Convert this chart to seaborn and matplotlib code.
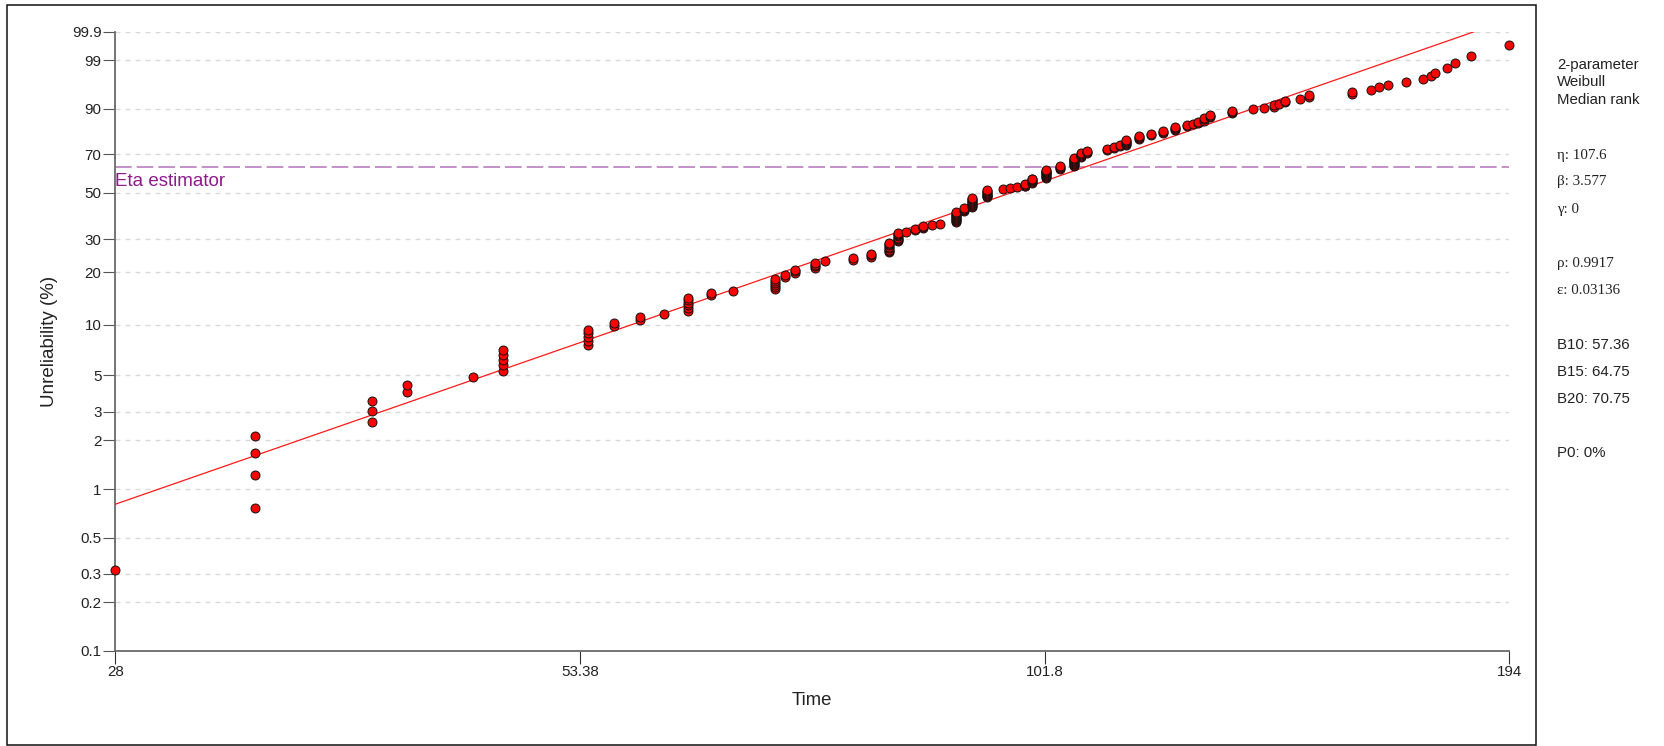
import numpy as np
import pandas as pd
import matplotlib
matplotlib.use("Agg")
import matplotlib.pyplot as plt
import seaborn as sns
from matplotlib.patches import Rectangle
from matplotlib.ticker import NullLocator, FixedLocator, FixedFormatter

# ---------------- data ----------------
# distinct failure times and number of failures observed at each time
fail_times = [28, 34, 40, 42, 46, 48, 54, 56, 58, 60, 62, 64, 66, 70, 71, 72, 74, 75,
              78, 80, 82, 83, 84, 85, 86, 87, 88, 90, 91, 92, 94, 96, 97, 98, 99, 100,
              102, 104, 106, 107, 108, 111, 112, 113, 114, 116, 118, 120, 122, 124, 125,
              126, 127, 128, 132, 136, 138, 140, 141, 142, 145, 147, 156, 160, 162, 164,
              168, 172, 174, 175, 178, 180, 184, 194]
fail_counts = [1, 4, 3, 2, 1, 5, 5, 2, 2, 1, 6, 2, 1, 6, 2, 3, 4, 1,
               2, 3, 8, 8, 1, 2, 3, 1, 1, 11, 4, 10, 9, 1, 1, 1, 4, 6,
               10, 4, 10, 5, 3, 2, 2, 2, 6, 4, 2, 3, 4, 2, 1,
               2, 3, 3, 3, 1, 1, 2, 1, 2, 1, 2, 2, 1, 1, 1,
               1, 1, 1, 1, 1, 1, 1, 1]

# fitted 2-parameter Weibull and summary values shown in the side panel
eta = 107.6
beta = 3.577
gamma = 0
rho = 0.9917
epsilon = 0.03136
b10, b15, b20 = 57.36, 64.75, 70.75
p0 = 0

x_ticks = [28, 53.38, 101.8, 194]
x_tick_labels = ["28", "53.38", "101.8", "194"]
y_ticks = [0.1, 0.2, 0.3, 0.5, 1, 2, 3, 5, 10, 20, 30, 50, 70, 90, 99, 99.9]
y_tick_labels = ["0.1", "0.2", "0.3", "0.5", "1", "2", "3", "5", "10", "20", "30",
                 "50", "70", "90", "99", "99.9"]

# ---------------- derived: median ranks (Bernard) ----------------
times = np.repeat(fail_times, fail_counts)
n = len(times)
ranks = np.arange(1, n + 1)
unrel = (ranks - 0.3) / (n + 0.4) * 100.0
pts = pd.DataFrame({"Time": times, "Unreliability": unrel})

t_line = np.geomspace(28, 194, 400)
f_line = 100.0 * (1.0 - np.exp(-(t_line / eta) ** beta))
line_df = pd.DataFrame({"Time": t_line, "Unreliability": f_line})
eta_level = 100.0 * (1.0 - np.exp(-1.0))

# ---------------- figure ----------------
sns.set_theme(style="white")
plt.rcParams["font.family"] = ["Liberation Sans", "DejaVu Sans"]
plt.rcParams["lines.scale_dashes"] = False

W, H = 1664, 746
fig = plt.figure(figsize=(W / 100, H / 100), dpi=100)
fig.patch.set_facecolor("white")

ax_l, ax_r, ax_t, ax_b = 115.2, 1509.3, 31.8, 650.7
ax = fig.add_axes([ax_l / W, 1 - ax_b / H, (ax_r - ax_l) / W, (ax_b - ax_t) / H])

def fwd(p):
    p = np.clip(np.asarray(p, dtype=float), 1e-9, 100 - 1e-9)
    return np.log(-np.log(1.0 - p / 100.0))

def inv(w):
    return 100.0 * (1.0 - np.exp(-np.exp(np.asarray(w, dtype=float))))

sns.lineplot(data=line_df, x="Time", y="Unreliability", color="#ff1a1a",
             linewidth=0.9, ax=ax, zorder=3, estimator=None, sort=False)
sns.scatterplot(data=pts, x="Time", y="Unreliability", color="#ff0000",
                edgecolor="#111111", linewidth=0.7, s=42, ax=ax,
                zorder=4, clip_on=False, legend=False)

ax.set_xscale("log")
ax.set_yscale("function", functions=(fwd, inv))
ax.set_xlim(28, 194)
ax.set_ylim(0.1, 99.9)

ax.axhline(eta_level, color="#b678ba", linewidth=1.15, dashes=(12, 3.6), zorder=2)
ax.annotate("Eta estimator", xy=(28, eta_level), xytext=(0, -4.0),
            textcoords="offset points", ha="left", va="top",
            fontsize=13.5, color="#8e1a8e")

ax.xaxis.set_major_locator(FixedLocator(x_ticks))
ax.xaxis.set_major_formatter(FixedFormatter(x_tick_labels))
ax.xaxis.set_minor_locator(NullLocator())
ax.yaxis.set_major_locator(FixedLocator(y_ticks))
ax.yaxis.set_major_formatter(FixedFormatter(y_tick_labels))
ax.yaxis.set_minor_locator(NullLocator())

ax.yaxis.grid(True, color="#dadada", linewidth=1.0, dashes=(3.6, 3.6))
ax.xaxis.grid(False)
ax.set_axisbelow(True)

for side in ["top", "right"]:
    ax.spines[side].set_visible(False)
for side in ["left", "bottom"]:
    ax.spines[side].set_color("#6a6a6a")
    ax.spines[side].set_linewidth(1.3)

ax.tick_params(axis="y", direction="out", length=8.8, width=0.8, color="#555555",
               labelsize=10.9, labelcolor="#222222", pad=1.0, left=True)
ax.tick_params(axis="x", direction="out", length=9.0, width=0.8, color="#333333",
               labelsize=10.9, labelcolor="#222222", pad=1.5, bottom=True)

ax.set_xlabel("Time", fontsize=13.3, color="#222222")
ax.set_ylabel("Unreliability (%)", fontsize=13.5, color="#222222")
ax.xaxis.set_label_coords(0.5, -0.066)
ax.yaxis.set_label_coords(-0.041, 0.5)

# outer frame
fig.add_artist(Rectangle((7 / W, 0.6 / H), (1536 - 7) / W, (745.4 - 4.5) / H,
                         transform=fig.transFigure, fill=False,
                         edgecolor="#111111", linewidth=1.1))

# side panel
tx = 1557 / W
panel = [
    ("2-parameter", 64.5, "sans"),
    ("Weibull", 82.5, "sans"),
    ("Median rank", 100.5, "sans"),
    (f"\u03b7: {eta}", 155, "serif"),
    (f"\u03b2: {beta}", 181, "serif"),
    (f"\u03b3: {gamma}", 209, "serif"),
    (f"\u03c1: {rho}", 263, "serif"),
    (f"\u03b5: {epsilon}", 291, "serif"),
    (f"B10: {b10}", 345, "sans"),
    (f"B15: {b15}", 372, "sans"),
    (f"B20: {b20}", 399, "sans"),
    (f"P0: {p0}%", 453, "sans"),
]
for txt, ypix, fam in panel:
    family = ["Liberation Serif", "DejaVu Serif"] if fam == "serif" else ["Liberation Sans", "DejaVu Sans"]
    fig.text(tx, 1 - ypix / H, txt, ha="left", va="center", fontsize=10.8,
             color="#222222", family=family)

fig.savefig("out.png", dpi=100, facecolor="white")
